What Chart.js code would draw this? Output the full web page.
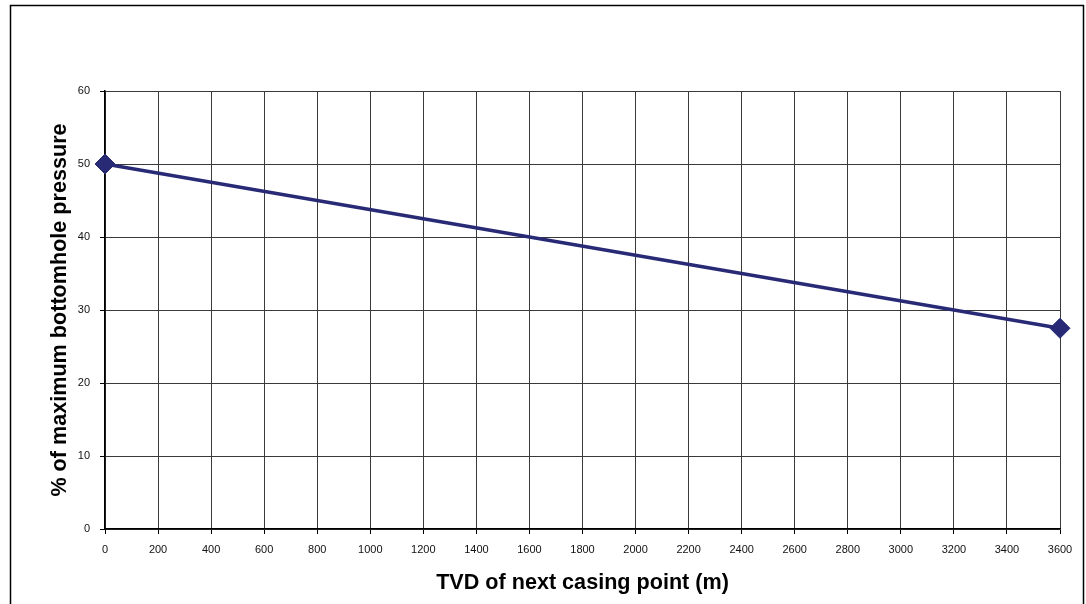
<!DOCTYPE html>
<html>
<head>
<meta charset="utf-8">
<script src="https://cdn.jsdelivr.net/npm/chart.js@4/dist/chart.umd.min.js"></script>
<style>
  html, body { margin: 0; padding: 0; background: #ffffff; }
  #wrap { width: 1086px; height: 604px; }
</style>
</head>
<body>
<div id="wrap"><canvas id="c" width="1086" height="604"></canvas></div>
<script>
const depths = [0, 3600];
const pressurePct = [50, 27.5];
const xTitle = 'TVD of next casing point (m)';
const yTitle = '% of maximum bottomhole pressure';

const frame = {
  id: 'frame',
  beforeDraw(chart) {
    const ctx = chart.ctx;
    ctx.save();
    ctx.fillStyle = '#ffffff';
    ctx.fillRect(0, 0, chart.width, chart.height);
    ctx.strokeStyle = '#000000';
    ctx.lineWidth = 1.5;
    ctx.strokeRect(10.5, 5.5, 1073, 800);
    ctx.restore();
  }
};

new Chart(document.getElementById('c'), {
  type: 'line',
  data: {
    datasets: [{
      data: depths.map((d, i) => ({ x: d, y: pressurePct[i] })),
      borderColor: '#282a76',
      backgroundColor: '#282a76',
      borderWidth: 3.5,
      pointStyle: 'rectRot',
      pointRadius: 10,
      pointBorderWidth: 1,
      pointBorderColor: '#282a76',
      pointBackgroundColor: '#282a76',
      tension: 0,
      clip: false
    }]
  },
  options: {
    responsive: false,
    animation: false,
    events: [],
    layout: { padding: { top: 91, right: 26, left: 0, bottom: 0 } },
    plugins: { legend: { display: false }, tooltip: { enabled: false }, title: { display: false } },
    scales: {
      x: {
        type: 'linear',
        min: 0, max: 3600,
        afterFit(s) { s.height = 75; },
        ticks: { stepSize: 200, color: '#111', font: { family: 'Liberation Sans', size: 11 }, padding: 9, maxRotation: 0, autoSkip: false,
          callback: v => String(v) },
        grid: { color: '#3a3a3a', lineWidth: 1, tickLength: 5, tickColor: '#000' },
        border: { color: '#000', width: 1.5 },
        title: { display: true, text: xTitle, color: '#000', font: { family: 'Liberation Sans', size: 21.6, weight: 'bold' }, padding: { top: 0, bottom: 8 } }
      },
      y: {
        min: 0, max: 60,
        afterFit(s) { s.width = 105; },
        ticks: { stepSize: 10, color: '#111', font: { family: 'Liberation Sans', size: 11 }, padding: 10, callback: v => String(v) },
        grid: { color: '#3a3a3a', lineWidth: 1, tickLength: 5, tickColor: '#000' },
        border: { color: '#000', width: 1.5 },
        title: { display: true, text: yTitle, color: '#000', font: { family: 'Liberation Sans', size: 21.6, weight: 'bold' }, padding: { top: 47, bottom: 0 } }
      }
    }
  },
  plugins: [frame]
});
</script>
</body>
</html>
